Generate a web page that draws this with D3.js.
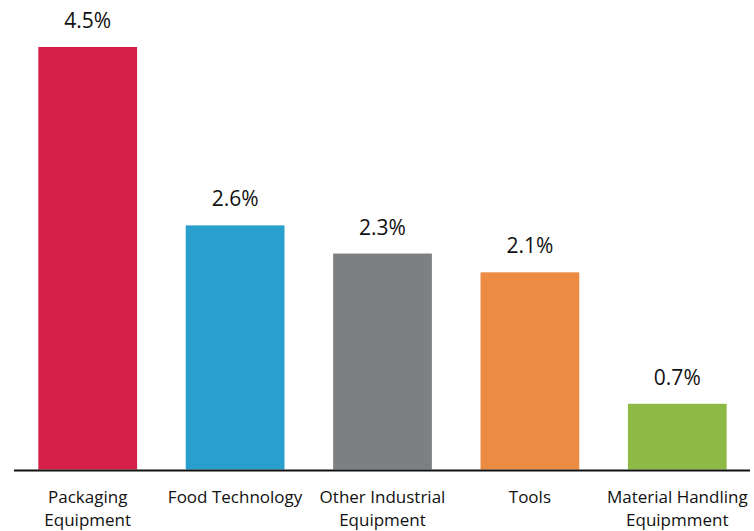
<!DOCTYPE html>
<html>
<head>
<meta charset="utf-8">
<script src="https://cdn.jsdelivr.net/npm/d3@7"></script>
<style>
  html, body { margin: 0; padding: 0; background: #fff; }
  svg { display: block; }
</style>
</head>
<body>
<svg id="chart" width="754" height="531"></svg>
<script>
// Growth by equipment segment, in percent
const categories = [
  ["Packaging", "Equipment"],
  ["Food Technology"],
  ["Other Industrial", "Equipment"],
  ["Tools"],
  ["Material Handling", "Equipmment"]
];
const values = [4.5, 2.6, 2.3, 2.1, 0.7];
const valueLabels = ["4.5%", "2.6%", "2.3%", "2.1%", "0.7%"];
const colors = ["#D61F48", "#289FCC", "#7D8083", "#EB8C42", "#8CBA44"];

const svg = d3.select("#chart");
const font = "'Open Sans', 'Noto Sans', sans-serif";

const x = d3.scaleBand()
  .domain(d3.range(values.length))
  .range([14, 751])
  .paddingInner(0.33)
  .paddingOuter(0.165);

const y = d3.scaleLinear()
  .domain([0, 4.5])
  .range([469.5, 47]);

// bars
svg.append("g")
  .selectAll("rect")
  .data(values)
  .join("rect")
  .attr("x", (d, i) => x(i))
  .attr("y", d => y(d))
  .attr("width", x.bandwidth())
  .attr("height", d => y(0) - y(d))
  .attr("fill", (d, i) => colors[i]);

// value labels above bars
svg.append("g")
  .selectAll("text")
  .data(values)
  .join("text")
  .attr("x", (d, i) => x(i) + x.bandwidth() / 2)
  .attr("y", d => y(d) - 19)
  .attr("text-anchor", "middle")
  .style("font-family", font)
  .style("font-size", "21px")
  .style("fill", "#111")
  .text((d, i) => valueLabels[i]);

// baseline
svg.append("line")
  .attr("x1", 14)
  .attr("x2", 750)
  .attr("y1", y(0) + 1)
  .attr("y2", y(0) + 1)
  .attr("stroke", "#111")
  .attr("stroke-width", 2);

// category labels, possibly on two lines
const cat = svg.append("g")
  .selectAll("text")
  .data(categories)
  .join("text")
  .attr("x", (d, i) => x(i) + x.bandwidth() / 2)
  .attr("y", 503)
  .attr("text-anchor", "middle")
  .style("font-family", font)
  .style("font-size", "17px")
  .style("fill", "#111");

cat.selectAll("tspan")
  .data(d => d)
  .join("tspan")
  .attr("x", function () { return d3.select(this.parentNode).attr("x"); })
  .attr("dy", (d, j) => j === 0 ? 0 : 23)
  .text(d => d);
</script>
</body>
</html>
